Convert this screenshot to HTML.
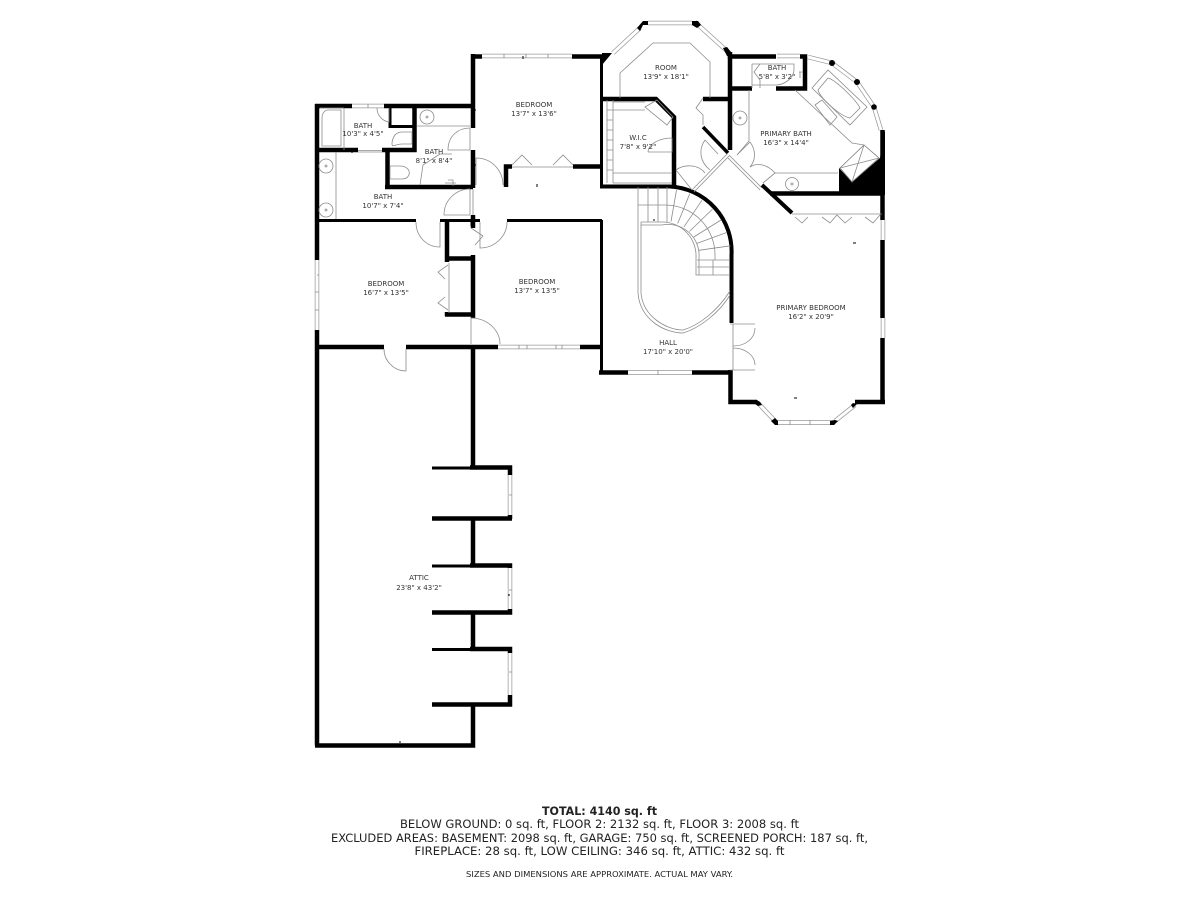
<!DOCTYPE html>
<html><head><meta charset="utf-8"><style>
html,body{margin:0;padding:0;background:#fff;width:1200px;height:900px;overflow:hidden}
svg{display:block;filter:blur(.3px)}
.k{fill:none;stroke:#000;stroke-linecap:butt;stroke-linejoin:miter}
.g{fill:none;stroke:#8c8c8c;stroke-width:.8}
.w1{fill:none;stroke:#999;stroke-width:4.5}
.w2{fill:none;stroke:#fff;stroke-width:3}
.l{font-family:"DejaVu Sans","Liberation Sans",sans-serif;font-size:7px;fill:#333;text-anchor:middle}
.f{font-family:"DejaVu Sans","Liberation Sans",sans-serif;font-size:11.5px;fill:#222;text-anchor:middle}
</style></head><body>
<svg width="1200" height="900" viewBox="0 0 1200 900" xmlns="http://www.w3.org/2000/svg">
<rect width="1200" height="900" fill="#fff"/>

<!-- windows -->
<g class="w1">
<path d="M352 106H384M482 56H572M317 260V330M498 347H580M628 372.500H692M648 23H692M640 28L613 53M695 22L728 52M777 56H800M808 57L832 63L857 82L874 107L881 130M758 403L775 421M775 422.500H835M835 421L855 405M883 318V338M883 220V240M510 475V515M510 568V609M510 653V695"/>
</g>
<g class="w2">
<path d="M352 106H384M482 56H572M317 260V330M498 347H580M628 372.500H692M648 23H692M640 28L613 53M695 22L728 52M777 56H800M808 57L832 63L857 82L874 107L881 130M758 403L775 421M775 422.500H835M835 421L855 405M883 318V338M883 220V240M510 475V515M510 568V609M510 653V695"/>
</g>
<path d="M368 104V108M504 54V58M526 54V58M548 54V58M317 275H319M315 292H319M315 310H319M519 345V349M527 345V349M556 345V349M562 345V349M658 370V375M509 495H512M509 590H512M509 672H512M790 420V425M810 420V425" class="g"/>

<!-- thick walls -->
<g class="k" stroke-width="4.500">
<path d="M317 745.500V330M317 260V104M315 106H352M384 106H473"/>
<path d="M315 745.500H473V704M473 650V612M473 566V518M473 466V345"/>
<path d="M473 54V128M473 150V188M473 215V228M473 255V318"/>
<path d="M471 56.500H482M572 56.500H604"/>
<path d="M317 347H384M406 347H498M580 347H602"/>
<path d="M473 187H385M387.500 187V150M319 150H358M382 150H390M414.500 106V150H390"/>
<path d="M390 106V126.500H416" stroke-width="3"/>
<path d="M447 221V262M445 258.500H475M445 314.500H475M447 312V316"/>
<path d="M506 187V166.500H512M573 166.500H602"/>
<path d="M599 372.500H628M692 372.500H732"/>
<path d="M730.500 370V402H757M855 402H885M882.500 404V338M882.500 318V240M882.500 220V130"/>
<path d="M730 52V56.500H776M800 56.500H805V88.500H776M752 88.500H730"/>
<path d="M730 54V150"/>
<path d="M674 186V117L656 99H602"/>
<path d="M703 99H730"/>
<path d="M703 127L728 153" stroke-width="3.500"/>
<path d="M762 185L792 213" stroke-width="4"/>
<path d="M770 193.500H882"/>
<path d="M600 186.500H670A65 65 0 0 1 731.500 255V323" stroke-width="4"/>
<path d="M432 468H473" stroke-width="3"/>
<path d="M470 467.500H510V475M510 515V519M432 518.500H512"/>
<path d="M432 566H473" stroke-width="3"/>
<path d="M470 565.500H510V568M510 609V612.500H432"/>
<path d="M432 649.500H473" stroke-width="3"/>
<path d="M470 649H510V653M510 695V704.500H432"/>
</g>
<g class="k" stroke-width="3">
<path d="M317 220.500H416M440 220.500H480M507 220.500H602"/>
<path d="M601.500 57V187M601.500 220V373"/>
<path d="M472 219V226"/>
</g>
<g fill="#000">
<path d="M839 168L852 182L880 158L885 130V195H839Z"/>
<path d="M602 53L612 53L602 65Z"/>
<path d="M637 28L643 21H648V25H643L640 31Z"/>
<path d="M692 21H698L701 25L697 28L692 25Z"/>
<path d="M723 48L727 47L731 52V56H727Z"/>
<circle cx="832" cy="63" r="3"/><circle cx="857" cy="82" r="3"/><circle cx="874" cy="107" r="2.800"/>
<path d="M757 400L760 402L762 405L758 406L755 404Z"/>
<path d="M775 418L778 421V425H775L771 421Z"/>
<path d="M835 420L838 421L834 425H830V421Z"/>
<path d="M853 403L857 404L853 408L851 405Z"/>
</g>

<!-- doors -->
<g class="g">
<path d="M389 108V122A14 14 0 0 1 377 108"/>
<path d="M470 150H448C448 136 458 128 470 128"/>
<path d="M476 185V158C493 158 503 172 503 185"/>
<path d="M470 215H444C444 200 456 189 470 189"/>
<path d="M470 128V150M470 189V215M473 215V189"/>
<path d="M440 222V247C426 247 416 236 416 222"/>
<path d="M480 222V248C495 248 507 236 507 222"/>
<path d="M471 318V344M471 318C487 318 500 330 500 344"/>
<path d="M406 349V371C394 371 384 361 384 349"/>
<path d="M471 228L483 236L475 245"/>
<path d="M449 263V313M448 265L438 272L445 279M445 297L438 303L448 310"/>
<path d="M512 167H573M512 165L522 155L532 165M553 165L563 155L573 165"/>
<path d="M358 150.500H382M358 152H382"/>
<path d="M730 324H755M730 370H755M755 328C755 338 746 346 733 346M755 365C755 356 746 348 733 348M733 324V370"/>
<path d="M648 152H672V138C658 138 648 145 648 152"/>
<path d="M692 190L728 153M694 192L730 155"/>
<path d="M676 170C684 164 698 164 705 173M676 170L692 190"/>
<path d="M705 140C698 150 700 162 710 170M705 140L718 154"/>
<path d="M730 156L762 188M728 158L760 190"/>
<path d="M737 155L750 142C756 150 756 160 750 167"/>
<path d="M750 167C758 162 768 165 775 173L763 183"/>
<path d="M703 98L696 108L703 115V125"/>
<path d="M792 214H882M795 217L802 223L808 217M822 217L830 223L837 215L845 223L852 217M865 217L873 223L880 215"/>
</g>

<!-- fixtures -->
<g class="g">
<path d="M620 98V73L653 43H690L710 62V98"/>
<path d="M749 90V141L737 155M775 173H838M763 183L775 173"/>
<path d="M812 88L828 70L867 107L850 125Z"/>
<path d="M818 90L828 78C836 80 856 100 860 108L850 118C840 116 820 98 818 90Z"/>
<path d="M815 105L822 100L837 117L830 125Z"/>
<path d="M795 90L852 143L864 145"/>
<path d="M864 145L879 158L852 182L840 168Z" stroke="#777"/>
<path d="M864 145L852 182M840 168L879 158" />
<circle cx="792" cy="184" r="6.500"/><circle cx="792" cy="184" r="1"/>
<circle cx="740" cy="118" r="7"/><circle cx="740" cy="118" r="1"/>
<path d="M752 64H760L754 72L760 80V88M752 64V88M760 64H794V70C794 78 784 85 776 85H752"/>
<path d="M800 72V78M803 72H799"/>
<path d="M328 110H341V146H322V118C322 113 325 110 328 110Z"/>
<path d="M344 108V150"/>
<path d="M320 108H344"/>
<circle cx="326" cy="166" r="7"/><circle cx="326" cy="210" r="7"/>
<circle cx="326" cy="166" r="1"/><circle cx="326" cy="210" r="1"/>
<path d="M336 152V219"/>
<circle cx="427" cy="117" r="7"/><circle cx="427" cy="117" r="1"/>
<path d="M417 126H470"/>
<path d="M412 132H402C394 132 392 140 392 144C392 148 396 144 402 144H412Z"/>
<path d="M390 166V179H402C412 179 412 166 400 166Z"/>
<path d="M440 154H452M440 154L423 165L420 185"/>
<path d="M448 180H453V186M445 183H456"/>
<path d="M607 100V183M613 100V183M607 110H613M607 120H613M607 130H613M607 140H613M607 150H613M607 160H613M607 170H613"/>
<path d="M613 102H645M613 110H645M613 173H672M613 183H672"/>
<path d="M645 107L657 100L673 117L667 125Z"/>
</g>

<!-- stairs -->
<g class="g" stroke="#666">
<path d="M638 187V293C640 320 665 333 683 333C700 328 720 312 730 295"/>
<path d="M641 222V293C643 317 667 330 683 330C700 325 718 310 730 291"/>
<path d="M641 222H662A34 34 0 0 1 696 258V275H730"/>
<path d="M641 225H662A31 31 0 0 1 699 258V275"/>
<path d="M638 205H665A50 50 0 0 1 715 255V260"/>
<path d="M648 187V222M658 187V222M667 187V222"/>
<path d="M671 221.500L676.500 190M677.700 223.500L689.700 193.800M684 226.800L701.900 200.300M689.500 231.400L712.500 209.100M693.800 237L721 220M697 243.400L727 232.400M698.700 250.300L730.400 245.800"/>
<path d="M697 260H730M697 267H730M713 260V275"/>
</g>

<!-- small wall ticks -->
<path d="M355 219V221M523 56V59M476 110H473M602 102H600M476 165H473M537 184V187M352 150V153M655 220H653M733 257H731M856 243H853M794 398H797M400 743V741" stroke="#000" stroke-width="1"/>
<path d="M509 594V596" stroke="#000" stroke-width="1"/>

<!-- room labels -->
<text class="l" x="534" y="107">BEDROOM</text><text class="l" x="534" y="116">13'7" x 13'6"</text>
<text class="l" x="666" y="70">ROOM</text><text class="l" x="666" y="79">13'9" x 18'1"</text>
<text class="l" x="777" y="70">BATH</text><text class="l" x="777" y="79">5'8" x 3'2"</text>
<text class="l" x="786" y="136">PRIMARY BATH</text><text class="l" x="786" y="145">16'3" x 14'4"</text>
<text class="l" x="638" y="140">W.I.C</text><text class="l" x="638" y="149">7'8" x 9'2"</text>
<text class="l" x="363" y="128">BATH</text><text class="l" x="363" y="136">10'3" x 4'5"</text>
<text class="l" x="434" y="154">BATH</text><text class="l" x="434" y="163">8'1" x 8'4"</text>
<text class="l" x="383" y="199">BATH</text><text class="l" x="383" y="208">10'7" x 7'4"</text>
<text class="l" x="386" y="286">BEDROOM</text><text class="l" x="386" y="295">16'7" x 13'5"</text>
<text class="l" x="537" y="284">BEDROOM</text><text class="l" x="537" y="293">13'7" x 13'5"</text>
<text class="l" x="811" y="310">PRIMARY BEDROOM</text><text class="l" x="811" y="319">16'2" x 20'9"</text>
<text class="l" x="668" y="345">HALL</text><text class="l" x="668" y="354">17'10" x 20'0"</text>
<text class="l" x="419" y="580">ATTIC</text><text class="l" x="419" y="590">23'8" x 43'2"</text>

<!-- footer -->
<text class="f" x="599.500" y="815" font-weight="bold" style="font-weight:bold" textLength="115" lengthAdjust="spacingAndGlyphs">TOTAL: 4140 sq. ft</text>
<text class="f" x="599.500" y="828" textLength="399" lengthAdjust="spacingAndGlyphs">BELOW GROUND: 0 sq. ft, FLOOR 2: 2132 sq. ft, FLOOR 3: 2008 sq. ft</text>
<text class="f" x="599.500" y="842" textLength="537" lengthAdjust="spacingAndGlyphs">EXCLUDED AREAS: BASEMENT: 2098 sq. ft, GARAGE: 750 sq. ft, SCREENED PORCH: 187 sq. ft,</text>
<text class="f" x="599.500" y="855" textLength="370" lengthAdjust="spacingAndGlyphs">FIREPLACE: 28 sq. ft, LOW CEILING: 346 sq. ft, ATTIC: 432 sq. ft</text>
<text class="f" x="599.500" y="877" style="font-size:8px" textLength="267" lengthAdjust="spacingAndGlyphs">SIZES AND DIMENSIONS ARE APPROXIMATE. ACTUAL MAY VARY.</text>
</svg>
</body></html>
